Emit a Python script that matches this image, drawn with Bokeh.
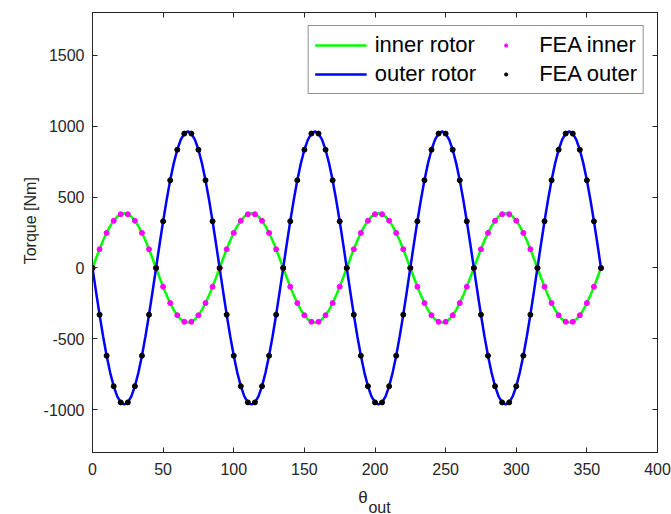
import numpy as np
from bokeh.plotting import figure
from bokeh.models import (LinearAxis, Title, Legend, LegendItem, FixedTicker,
                          Range1d, ColumnDataSource)
from bokeh.embed import file_html
from bokeh.resources import INLINE

# ---------------- data ----------------
# analytical curves sampled every 2.5 deg of theta_out (0..360)
theta_line = np.arange(0, 360.01, 2.5)
inner_rotor = [
    0, 67, 132, 193, 247, 295, 333, 362, 379, 385, 379, 362, 333, 295, 247, 193, 132, 67,
    0, -67, -132, -193, -247, -295, -333, -362, -379, -385, -379, -362, -333, -295, -247, -193, -132, -67,
    0, 67, 132, 193, 247, 295, 333, 362, 379, 385, 379, 362, 333, 295, 247, 193, 132, 67,
    0, -67, -132, -193, -247, -295, -333, -362, -379, -385, -379, -362, -333, -295, -247, -193, -132, -67,
    0, 67, 132, 193, 247, 295, 333, 362, 379, 385, 379, 362, 333, 295, 247, 193, 132, 67,
    0, -67, -132, -193, -247, -295, -333, -362, -379, -385, -379, -362, -333, -295, -247, -193, -132, -67,
    0, 67, 132, 193, 247, 295, 333, 362, 379, 385, 379, 362, 333, 295, 247, 193, 132, 67,
    0, -67, -132, -193, -247, -295, -333, -362, -379, -385, -379, -362, -333, -295, -247, -193, -132, -67,
    0]
outer_rotor = [
    0, -167, -329, -481, -618, -737, -833, -904, -947, -962, -947, -904, -833, -737, -618, -481, -329, -167,
    0, 167, 329, 481, 618, 737, 833, 904, 947, 962, 947, 904, 833, 737, 618, 481, 329, 167,
    0, -167, -329, -481, -618, -737, -833, -904, -947, -962, -947, -904, -833, -737, -618, -481, -329, -167,
    0, 167, 329, 481, 618, 737, 833, 904, 947, 962, 947, 904, 833, 737, 618, 481, 329, 167,
    0, -167, -329, -481, -618, -737, -833, -904, -947, -962, -947, -904, -833, -737, -618, -481, -329, -167,
    0, 167, 329, 481, 618, 737, 833, 904, 947, 962, 947, 904, 833, 737, 618, 481, 329, 167,
    0, -167, -329, -481, -618, -737, -833, -904, -947, -962, -947, -904, -833, -737, -618, -481, -329, -167,
    0, 167, 329, 481, 618, 737, 833, 904, 947, 962, 947, 904, 833, 737, 618, 481, 329, 167,
    0]

# FEA results every 5 deg
theta_fea = np.arange(0, 360.01, 5)
fea_inner = [
    0, 132, 247, 333, 379, 379, 333, 247, 132, 0, -132, -247, -333, -379, -379, -333, -247, -132,
    0, 132, 247, 333, 379, 379, 333, 247, 132, 0, -132, -247, -333, -379, -379, -333, -247, -132,
    0, 132, 247, 333, 379, 379, 333, 247, 132, 0, -132, -247, -333, -379, -379, -333, -247, -132,
    0, 132, 247, 333, 379, 379, 333, 247, 132, 0, -132, -247, -333, -379, -379, -333, -247, -132,
    0]
fea_outer = [
    0, -329, -618, -833, -947, -947, -833, -618, -329, 0, 329, 618, 833, 947, 947, 833, 618, 329,
    0, -329, -618, -833, -947, -947, -833, -618, -329, 0, 329, 618, 833, 947, 947, 833, 618, 329,
    0, -329, -618, -833, -947, -947, -833, -618, -329, 0, 329, 618, 833, 947, 947, 833, 618, 329,
    0, -329, -618, -833, -947, -947, -833, -618, -329, 0, 329, 618, 833, 947, 947, 833, 618, 329,
    0]

x_ticks = [0, 50, 100, 150, 200, 250, 300, 350, 400]
y_ticks = [-1000, -500, 0, 500, 1000, 1500]
y_tick_labels = ["-1000", "-500", "0", "500", "1000", "1500"]

FONT = "Liberation Sans"
DARK = "#262626"

# ---------------- figure ----------------
p = figure(width=671, height=514, output_backend="svg", toolbar_location=None,
           x_range=Range1d(0, 400), y_range=Range1d(-1300, 1800),
           min_border_left=92, min_border_right=14, min_border_top=12,
           min_border_bottom=62, background_fill_color="white",
           border_fill_color="white")
p.grid.visible = False
p.outline_line_color = DARK


def style_axis(ax, show_labels=True):
    ax.axis_line_color = DARK
    ax.axis_line_width = 1
    ax.major_tick_line_color = DARK
    ax.major_tick_in = 5
    ax.major_tick_out = 0
    ax.minor_tick_line_color = None
    ax.major_label_text_font = FONT
    if show_labels:
        ax.major_label_text_font_size = "16px"
        ax.major_label_text_color = DARK
    else:
        ax.major_label_text_font_size = "0px"
        ax.major_label_text_color = None
        ax.major_label_standoff = 0


p.xaxis.ticker = FixedTicker(ticks=x_ticks)
p.yaxis.ticker = FixedTicker(ticks=y_ticks)
p.yaxis.major_label_overrides = {t: s for t, s in zip(y_ticks, y_tick_labels)}
style_axis(p.xaxis[0])
style_axis(p.yaxis[0])
p.xaxis.major_label_standoff = 10
p.yaxis.major_label_standoff = 8

top_ax = LinearAxis(ticker=FixedTicker(ticks=x_ticks))
right_ax = LinearAxis(ticker=FixedTicker(ticks=y_ticks))
style_axis(top_ax, False)
style_axis(right_ax, False)
p.add_layout(top_ax, "above")
p.add_layout(right_ax, "right")

src_line = ColumnDataSource(dict(x=theta_line, inner=inner_rotor, outer=outer_rotor))
src_fea = ColumnDataSource(dict(x=theta_fea, inner=fea_inner, outer=fea_outer))

r1 = p.line("x", "inner", source=src_line, line_color="#00FF00", line_width=2.5)
r2 = p.line("x", "outer", source=src_line, line_color="#0000FF", line_width=2.5)
r3 = p.scatter("x", "inner", source=src_fea, size=5, fill_color="#FF00FF",
               line_color="#FF00FF")
r4 = p.scatter("x", "outer", source=src_fea, size=5, fill_color="black",
               line_color="black")

legend = Legend(items=[LegendItem(label="inner rotor", renderers=[r1]),
                       LegendItem(label="outer rotor", renderers=[r2]),
                       LegendItem(label="FEA inner", renderers=[r3]),
                       LegendItem(label="FEA outer", renderers=[r4])],
                location="top_right", orientation="vertical", ncols=2,
                margin=13, padding=6, spacing=3,
                glyph_width=52, glyph_height=8, label_height=26,
                label_standoff=8,
                label_text_font=FONT, label_text_font_size="22px",
                label_text_color="black",
                border_line_color=DARK, border_line_width=0.8,
                background_fill_color="white", background_fill_alpha=1)
p.add_layout(legend)

# axis titles (side-panel titles so they are not clipped by the frame)
ytitle = Title(text="Torque  [Nm]", align="center", vertical_align="bottom",
               standoff=-18, padding=dict(left=28, right=0, top=0, bottom=11),
               text_font=FONT, text_font_size="16px",
               text_font_style="normal", text_color=DARK)
p.add_layout(ytitle, "left")

xtitle_main = Title(text="θ", align="center", vertical_align="top",
                    standoff=-8, padding=dict(left=0, right=24, top=14, bottom=0),
                    text_font=FONT, text_font_size="17px",
                    text_font_style="normal", text_color=DARK)
xtitle_sub = Title(text="out", align="center", vertical_align="top",
                   standoff=-18, padding=dict(left=9, right=0, top=3, bottom=0),
                   text_font=FONT, text_font_size="16px",
                   text_font_style="normal", text_color=DARK)
p.add_layout(xtitle_main, "below")
p.add_layout(xtitle_sub, "below")

open("out.html", "w").write(file_html(p, INLINE))
